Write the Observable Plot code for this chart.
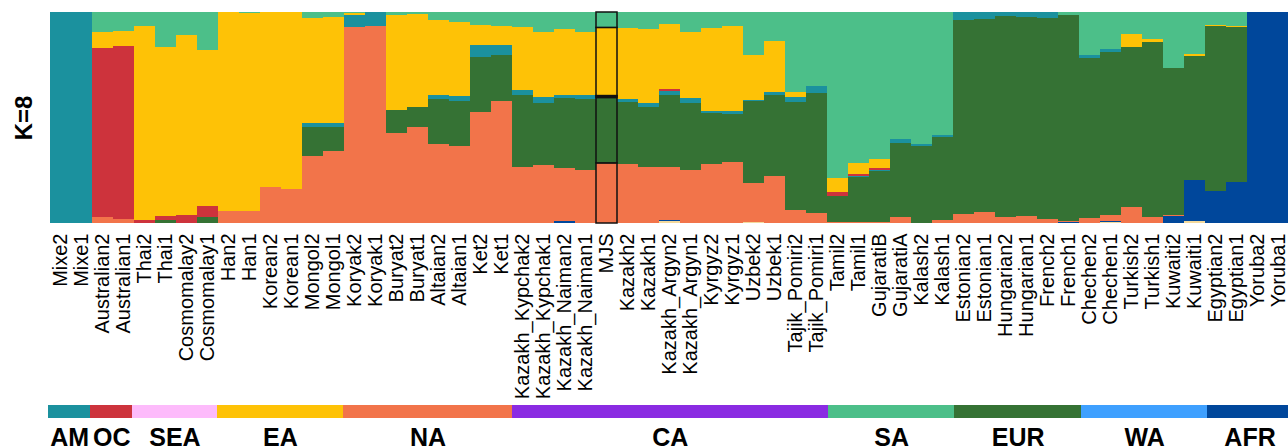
<!DOCTYPE html>
<html>
<head>
<meta charset="utf-8">
<script src="https://cdn.jsdelivr.net/npm/d3@7"></script>
<script src="https://cdn.jsdelivr.net/npm/@observablehq/plot@0.6"></script>
<style>
  html, body { margin: 0; padding: 0; background: #fff; overflow: hidden; }
  #chart svg { display: block; }
</style>
</head>
<body>
<div id="chart"></div>
<script>
const FONT = "'Liberation Sans', Arial, Helvetica, sans-serif";

const samples = [
  "Mixe2","Mixe1",
  "Australian2","Australian1",
  "Thai2","Thai1","Cosmomalay2","Cosmomalay1",
  "Han2","Han1","Korean2","Korean1","Mongol2","Mongol1",
  "Koryak2","Koryak1","Buryat2","Buryat1","Altaian2","Altaian1","Ket2","Ket1",
  "Kazakh_Kypchak2","Kazakh_Kypchak1","Kazakh_Naiman2","Kazakh_Naiman1","MJS","Kazakh2","Kazakh1",
  "Kazakh_Argyn2","Kazakh_Argyn1","Kyrgyz2","Kyrgyz1","Uzbek2","Uzbek1","Tajik_Pomiri2","Tajik_Pomiri1",
  "Tamil2","Tamil1","GujaratiB","GujaratiA","Kalash2","Kalash1",
  "Estonian2","Estonian1","Hungarian2","Hungarian1","French2","French1",
  "Chechen2","Chechen1","Turkish2","Turkish1","Kuwaiti2","Kuwaiti1",
  "Egyptian2","Egyptian1","Yoruba2","Yoruba1"
];

// ancestry components, stacked bottom -> top in this order
const components = ["tan","navy","orange","dkgreen","teal","red","yellow","green"];
const componentColors = ["#f3d99c","#00479b","#f2744a","#357234","#1b919e","#cd333c","#fec206","#4cbf89"];

// per-component proportions, one value per sample (groups: AM, OC, SEA, EA, NA, CA, SA, EUR, WA, AFR)
const tan = [
  0, 0,
  0, 0,
  0, 0, 0, 0,
  0, 0, 0, 0, 0, 0,
  0, 0, 0, 0, 0, 0, 0, 0,
  0, 0, 0, 0, 0, 0, 0, .010, 0, 0, 0, .005, 0, 0, 0,
  0, 0, 0, 0, 0, 0,
  0, 0, 0, 0, 0, 0,
  0, .003, 0, 0, 0, .008,
  0, 0, 0, 0
];
const navy = [
  0, 0,
  0, 0,
  0, 0, 0, 0,
  0, 0, 0, 0, 0, 0,
  0, 0, 0, 0, 0, 0, 0, 0,
  0, 0, .010, 0, 0, 0, 0, .003, 0, 0, 0, 0, 0, 0, 0,
  0, 0, 0, 0, 0, 0,
  0, 0, 0, 0, 0, .005,
  0, .005, 0, 0, .032, .195,
  .150, .193, 1, 1
];
const orange = [
  0, 0,
  .027, .021,
  0, 0, 0, 0,
  .055, .055, .169, .160, .316, .340,
  .929, .934, .426, .454, .373, .364, .525, .578,
  .264, .274, .250, .250, .285, .278, .264, .252, .250, .278, .288, .184, .222, .060, .046,
  .005, .005, .005, .027, 0, .013,
  .041, .051, .027, .032, .017, .005,
  .022, .028, .074, .027, .005, 0,
  0, 0, 0, 0
];
const dkgreen = [
  0, 0,
  0, 0,
  0, .013, 0, .027,
  0, 0, 0, 0, .138, .114,
  0, 0, .109, .095, .214, .214, .261, .218,
  .342, .294, .332, .337, .310, .294, .285, .342, .318, .242, .228, .389, .384, .513, .570,
  .122, .212, .240, .351, .364, .394,
  .921, .916, .954, .945, .954, .976,
  .759, .774, .760, .831, .698, .589,
  .783, .736, 0, 0
];
const teal = [
  1, 1,
  0, 0,
  0, 0, 0, 0,
  0, 0, 0, 0, .019, .019,
  .057, .066, 0, 0, .019, .024, .057, .047,
  .024, .028, .014, .019, .006, .014, .019, .019, .024, .010, .014, .005, .014, .024, .033,
  0, .005, .005, .019, .010, .010,
  .038, .033, .019, .023, .029, 0,
  .014, .014, 0, 0, 0, 0,
  0, 0, 0, 0
];
const red = [
  0, 0,
  .802, .818,
  .013, .019, .036, .052,
  .003, 0, .003, .003, 0, 0,
  0, 0, 0, 0, 0, 0, 0, 0,
  0, 0, 0, 0, .003, 0, 0, .010, 0, 0, 0, 0, 0, 0, 0,
  .019, .010, .010, 0, 0, 0,
  0, 0, 0, 0, 0, 0,
  0, 0, 0, 0, 0, 0,
  0, 0, 0, 0
];
const yellow = [
  0, 0,
  .076, .071,
  .921, .802, .855, .741,
  .942, .940, .828, .837, .499, .503,
  .010, 0, .451, .441, .356, .351, .095, .090,
  .299, .309, .313, .299, .323, .338, .351, .308, .313, .394, .404, .213, .242, .024, 0,
  .066, .052, .043, 0, 0, 0,
  0, 0, 0, 0, 0, 0,
  0, 0, .062, .014, 0, .010,
  .005, .005, 0, 0
];
const green = [
  0, 0,
  .095, .090,
  .066, .166, .109, .180,
  0, .005, 0, 0, .028, .024,
  .004, 0, .014, .010, .038, .047, .062, .067,
  .071, .095, .081, .095, .073, .076, .081, .057, .095, .076, .066, .204, .138, .379, .351,
  .788, .716, .697, .603, .626, .583,
  0, 0, 0, 0, 0, .014,
  .205, .176, .104, .128, .265, .198,
  .062, .066, 0, 0
];

const groupNames  = ["AM","OC","SEA","EA","NA","CA","SA","EUR","WA","AFR"];
const groupSizes  = [2, 2, 4, 6, 8, 15, 6, 6, 6, 4];
const groupColors = ["#1b919e","#cd333c","#fdbbfb","#fec206","#f2744a","#8a2be2","#4cbf89","#357234","#3ea0ff","#00479b"];

const highlighted = "MJS";
const yLabel = "K=8";

// ---- build tables ----
const series = {tan, navy, orange, dkgreen, teal, red, yellow, green};
const rows = [];
samples.forEach((s, i) => {
  components.forEach(c => rows.push({sample: s, comp: c, value: series[c][i]}));
});

let acc = 0;
const groups = groupNames.map((g, k) => {
  const start = acc;
  acc += groupSizes[k];
  return {g, start, end: acc, mid: (start + acc) / 2};
});

const xRange = [48, 1291.7];

const main = Plot.plot({
  width: 1288,
  height: 405,
  marginTop: 12,
  marginBottom: 182,
  marginLeft: 48,
  marginRight: 0,
  style: {fontFamily: FONT, fontSize: "20px", background: "white", color: "black"},
  x: {type: "band", domain: samples, range: xRange, padding: 0,
      tickRotate: -90, tickSize: 0, tickPadding: 10, label: null},
  y: {domain: [0, 1], axis: null},
  color: {domain: components, range: componentColors},
  marks: [
    Plot.barY(rows, {x: "sample", y: "value", fill: "comp", shapeRendering: "crispEdges"}),
    Plot.barY(rows.filter(d => d.sample === highlighted && d.value > 0),
              {x: "sample", y: "value", fill: "comp", stroke: "#111", strokeWidth: 1.5}),
    Plot.text([yLabel], {text: d => d, frameAnchor: "left", textAnchor: "middle", dx: -24, rotate: -90,
                         fontWeight: "bold", fontSize: 24, fill: "black"})
  ]
});

const band = Plot.plot({
  width: 1288,
  height: 43,
  marginTop: 0,
  marginBottom: 30,
  marginLeft: 48,
  marginRight: 0,
  style: {fontFamily: FONT, background: "white", color: "black"},
  x: {domain: [0, samples.length], range: xRange, axis: null},
  color: {domain: groupNames, range: groupColors},
  marks: [
    Plot.rect(groups, {x1: "start", x2: "end", fill: "g", shapeRendering: "crispEdges"}),
    Plot.text(groups, {x: "mid", text: "g", frameAnchor: "top", lineAnchor: "top", dy: 23,
                       fontWeight: "bold", fontSize: 25, fill: "black"})
  ]
});

const root = document.getElementById("chart");
root.appendChild(main);
root.appendChild(band);
</script>
</body>
</html>
